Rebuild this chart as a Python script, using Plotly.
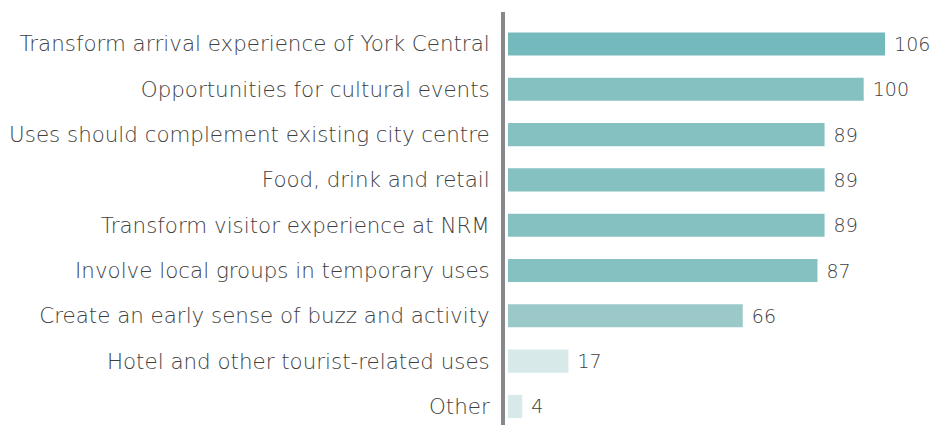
import plotly.graph_objects as go

categories = [
    "Transform arrival experience of York Central",
    "Opportunities for cultural events",
    "Uses should complement existing city centre",
    "Food, drink and retail",
    "Transform visitor experience at NRM",
    "Involve local groups in temporary uses",
    "Create an early sense of buzz and activity",
    "Hotel and other tourist-related uses",
    "Other",
]
values = [106, 100, 89, 89, 89, 87, 66, 17, 4]
colors = ["#74B9BC", "#86C1C2", "#86C1C2", "#86C1C2", "#86C1C2", "#86C1C2",
          "#9BC9CA", "#D8E9EA", "#D8E9EA"]

FONT = "DejaVu Sans"

fig = go.Figure(go.Bar(
    x=values, y=categories, orientation="h",
    marker=dict(color=colors, line=dict(width=0)),
    width=0.51,
    text=values, texttemplate="\u00a0%{text}", textposition="outside", cliponaxis=False,
    textfont=dict(family=FONT, size=19, color="#404040", weight=300),
    hoverinfo="skip",
))

fig.update_layout(
    width=932, height=425,
    margin=dict(l=505, r=0, t=12, b=0),
    plot_bgcolor="white", paper_bgcolor="white",
    showlegend=False,
    font=dict(family=FONT, color="#404040", weight=300),
    xaxis=dict(range=[-0.84, 119.2], visible=False, showgrid=False, zeroline=False,
               automargin=False),
    yaxis=dict(
        categoryorder="array", categoryarray=categories,
        range=[8.41, -0.706],
        showline=True, linecolor="#88888C", linewidth=4,
        showgrid=False, zeroline=False, ticks="",
        ticklabelstandoff=7, automargin=False,
        tickfont=dict(family=FONT, size=21.4, color="#404040", weight=300),
    ),
)

fig.write_html(
    "out.html",
    config={"displayModeBar": False},
    post_script="document.body.style.margin='0';document.body.style.overflow='hidden';",
)
